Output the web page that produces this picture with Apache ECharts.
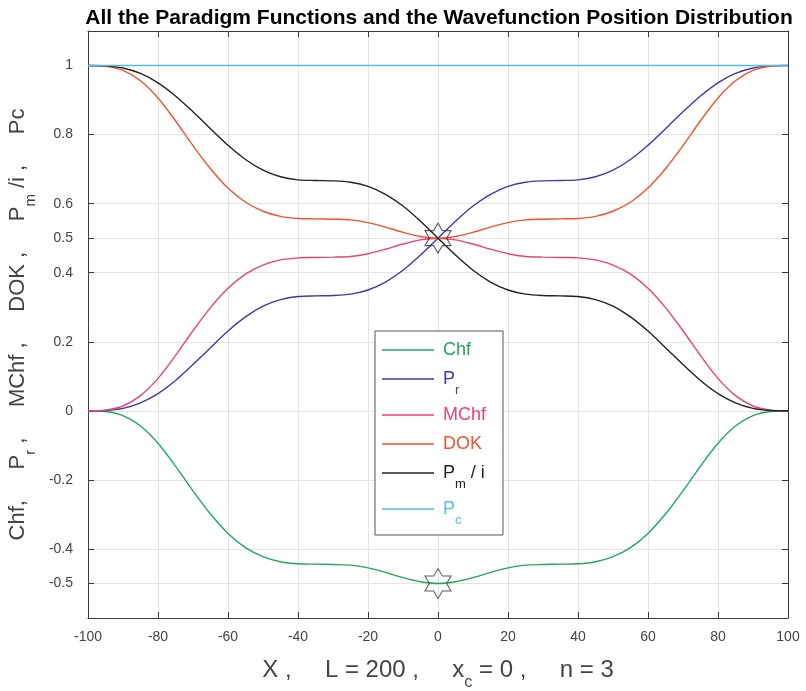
<!DOCTYPE html>
<html><head><meta charset="utf-8">
<script src="https://cdn.jsdelivr.net/npm/echarts@6/dist/echarts.min.js"></script>
<style>html,body{margin:0;padding:0;background:#fff}#c{width:806px;height:691px}</style>
</head><body><div id="c"></div>
<script>
// ---- data ----
const xValues = [-100,-95,-90,-85,-80,-75,-70,-65,-60,-55,-50,-45,-40,-35,-30,-25,-20,-15,-10,-5,0,5,10,15,20,25,30,35,40,45,50,55,60,65,70,75,80,85,90,95,100];
const chf  = [0,-0.002,-0.014,-0.044,-0.094,-0.160,-0.232,-0.299,-0.355,-0.396,-0.422,-0.437,-0.443,-0.444,-0.445,-0.447,-0.455,-0.468,-0.483,-0.495,-0.5,-0.495,-0.483,-0.468,-0.455,-0.447,-0.445,-0.444,-0.443,-0.437,-0.422,-0.396,-0.355,-0.299,-0.232,-0.160,-0.094,-0.044,-0.014,-0.002,0];
const pr   = [0,0.001,0.007,0.023,0.050,0.088,0.134,0.183,0.231,0.272,0.303,0.322,0.331,0.333,0.334,0.338,0.350,0.373,0.407,0.451,0.5,0.549,0.593,0.627,0.650,0.662,0.666,0.667,0.669,0.678,0.697,0.728,0.769,0.817,0.866,0.912,0.950,0.977,0.993,0.999,1];
const mchf = [0,0.002,0.014,0.044,0.094,0.160,0.232,0.299,0.355,0.396,0.422,0.437,0.443,0.444,0.445,0.447,0.455,0.468,0.483,0.495,0.5,0.495,0.483,0.468,0.455,0.447,0.445,0.444,0.443,0.437,0.422,0.396,0.355,0.299,0.232,0.160,0.094,0.044,0.014,0.002,0];
const dok  = [1,0.998,0.986,0.956,0.906,0.840,0.768,0.701,0.645,0.604,0.578,0.563,0.557,0.556,0.555,0.553,0.545,0.532,0.517,0.505,0.5,0.505,0.517,0.532,0.545,0.553,0.555,0.556,0.557,0.563,0.578,0.604,0.645,0.701,0.768,0.840,0.906,0.956,0.986,0.998,1];
const pm   = [1,0.999,0.993,0.977,0.950,0.912,0.866,0.817,0.769,0.728,0.697,0.678,0.669,0.667,0.666,0.662,0.650,0.627,0.593,0.549,0.5,0.451,0.407,0.373,0.350,0.338,0.334,0.333,0.331,0.322,0.303,0.272,0.231,0.183,0.134,0.088,0.050,0.023,0.007,0.001,0];
const pc   = [1,1,1,1,1,1,1,1,1,1,1,1,1,1,1,1,1,1,1,1,1,1,1,1,1,1,1,1,1,1,1,1,1,1,1,1,1,1,1,1,1];
const starX = [0, 0];
const starY = [0.5, -0.5];
const yTickValues = [-0.5,-0.4,-0.2,0,0.2,0.4,0.5,0.6,0.8,1];
const seriesNames  = ['Chf','Pr','MChf','DOK','Pm/i','Pc'];
const seriesLabels = ['Chf','P{sub|r}','MChf','DOK','P{sub|m} / i','P{sub|c}'];
const seriesColors = ['#22a65e','#3c3ca2','#e8407e','#ea5430','#222222','#4dbeee'];
const seriesData   = [chf, pr, mchf, dok, pm, pc];

const titleText = 'All the Paradigm Functions and the Wavefunction Position Distribution';
const xName = 'X ,     L = 200 ,     x{sub|c} = 0 ,     n = 3';
const yName = 'Chf,     P{sub|r} ,     MChf ,     DOK ,     P{sub|m} /i ,     Pc';

// ---- chart ----
const FONT = "'Liberation Sans', Arial, Helvetica, sans-serif";
const axisColor = '#3a3a3a';
const gridColor = '#e3e3e3';
const chart = echarts.init(document.getElementById('c'), null, {renderer:'canvas'});

const hexagram = 'path://M50,0L64.43,25L93.3,25L78.87,50L93.3,75L64.43,75L50,100L35.57,75L6.7,75L21.13,50L6.7,25L35.57,25Z';

const series = seriesNames.map((n, k) => ({
  name: n, type: 'line', showSymbol: false, smooth: 0.3,
  data: xValues.map((x, i) => [x, seriesData[k][i]]),
  lineStyle: {color: seriesColors[k], width: 1.4},
  itemStyle: {color: seriesColors[k]},
  emphasis: {disabled: true}, z: 3
}));
series.push({
  type: 'scatter', name: 'stars', data: starX.map((x, i) => [x, starY[i]]),
  symbol: hexagram, symbolSize: [26, 30],
  itemStyle: {color: 'rgba(0,0,0,0)', borderColor: '#333', borderWidth: 1.1}, z: 5,
  emphasis: {disabled: true}
});

// legend (drawn as a box with line samples and labels)
const legendTop = 331, legendLeft = 375;
const rowY = [350, 379, 415, 444, 473, 509];
const legendGraphics = [{
  type: 'rect', shape: {x: legendLeft, y: legendTop, width: 128, height: 204},
  style: {fill: '#fff', stroke: '#555', lineWidth: 1}, z: 10
}];
seriesNames.forEach((n, k) => {
  legendGraphics.push({
    type: 'line', shape: {x1: 382, y1: rowY[k], x2: 434, y2: rowY[k]},
    style: {stroke: seriesColors[k], lineWidth: 1.3}, z: 11
  });
  legendGraphics.push({
    type: 'text', x: 443, y: rowY[k], z: 11,
    style: {
      text: seriesLabels[k], fill: seriesColors[k],
      fontSize: 18, fontFamily: FONT, lineHeight: 20,
      verticalAlign: 'middle', align: 'left',
      rich: {sub: {fontSize: 13, fontFamily: FONT, lineHeight: 15, padding: [22, 0, 0, 0], fill: seriesColors[k], color: seriesColors[k]}}
    }
  });
});

const yAxisBase = {
  type: 'value', min: -0.6, max: 1.1,
  axisLine: {show: true, onZero: false, lineStyle: {color: axisColor, width: 1}},
  axisTick: {show: true, inside: true, length: 6, customValues: yTickValues, lineStyle: {color: axisColor}},
};
const xAxisBase = {
  type: 'value', min: -100, max: 100, interval: 20,
  axisLine: {show: true, onZero: false, lineStyle: {color: axisColor, width: 1}},
  axisTick: {show: true, inside: true, length: 6, lineStyle: {color: axisColor}},
};

chart.setOption({
  animation: false,
  backgroundColor: '#fff',
  title: {
    text: titleText, left: 434, top: 3, textAlign: 'center',
    textStyle: {fontFamily: FONT, fontSize: 21, fontWeight: 'bold', color: '#000'}
  },
  grid: {left: 88, right: 18, top: 31, bottom: 73, containLabel: false, outerBoundsMode: 'none'},
  xAxis: [
    Object.assign({}, xAxisBase, {
      position: 'bottom',
      axisLabel: {show: true, fontFamily: FONT, fontSize: 14, color: '#444', margin: 12},
      splitLine: {show: true, lineStyle: {color: gridColor, width: 1}},
      name: xName, nameLocation: 'middle', nameGap: 24,
      nameTextStyle: {fontFamily: FONT, fontSize: 24, color: '#444', lineHeight: 24,
        rich: {sub: {fontFamily: FONT, fontSize: 16, color: '#444', lineHeight: 16, padding: [26, 0, 0, 0]}}}
    }),
    Object.assign({}, xAxisBase, {position: 'top', axisLabel: {show: false}, splitLine: {show: false}})
  ],
  yAxis: [
    Object.assign({}, yAxisBase, {
      position: 'left',
      axisLabel: {show: true, customValues: yTickValues, fontFamily: FONT, fontSize: 14, color: '#444', margin: 15},
      splitLine: {show: true, lineStyle: {color: gridColor, width: 1}},
      name: yName, nameLocation: 'middle', nameGap: 40, nameRotate: 90,
      nameTextStyle: {fontFamily: FONT, fontSize: 22, color: '#444', lineHeight: 24,
        rich: {sub: {fontFamily: FONT, fontSize: 15, color: '#444', lineHeight: 16, padding: [26, 0, 0, 0]}}}
    }),
    Object.assign({}, yAxisBase, {position: 'right', axisLabel: {show: false}, splitLine: {show: false}})
  ],
  series: series,
  graphic: legendGraphics
});
</script></body></html>
